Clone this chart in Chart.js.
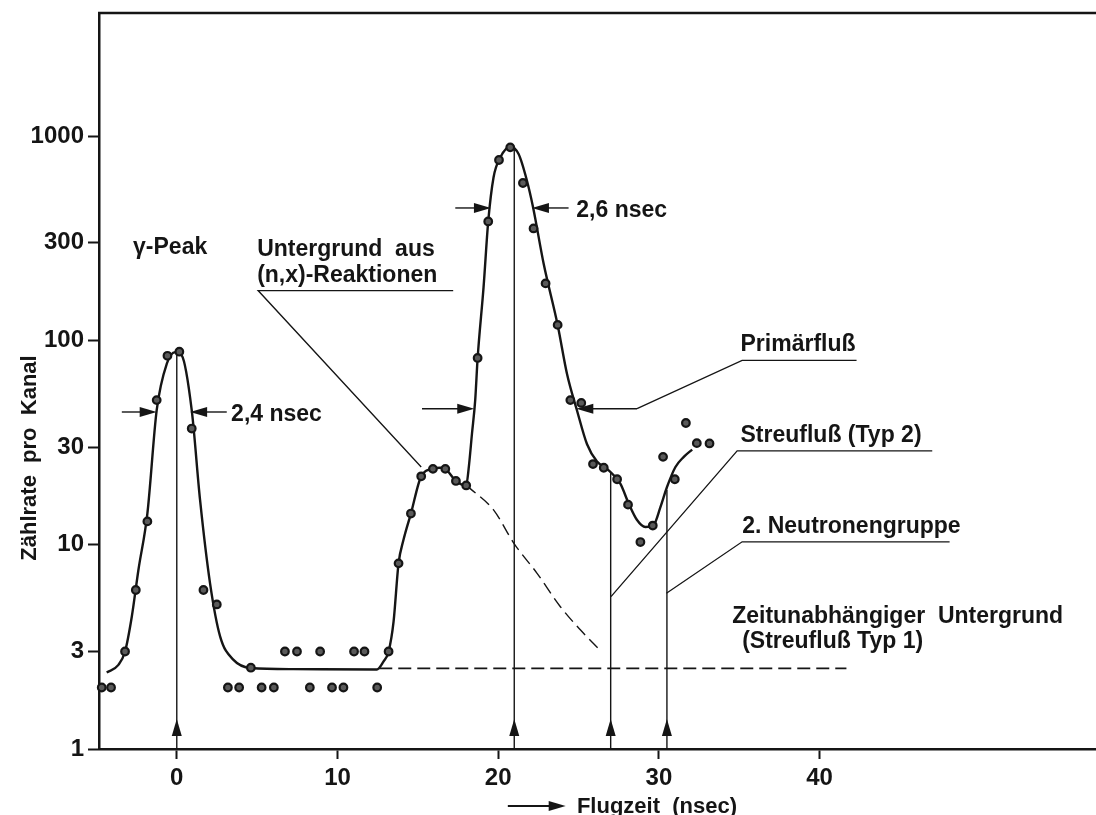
<!DOCTYPE html>
<html>
<head>
<meta charset="utf-8">
<title>Flugzeitspektrum</title>
<script src="https://cdn.jsdelivr.net/npm/chart.js"></script>
<style>
  body { margin: 0; background: #fff; }
  canvas { display: block; }
</style>
</head>
<body>
<canvas id="spectrum" width="1096" height="815"></canvas>
<script>
// Flugzeit in nsec, Zählrate pro Kanal
const measuredTime = [-4.67, -4.09, -3.22, -2.55, -1.83, -1.25, -0.58, 0.16, 0.93, 1.66, 2.49, 3.18, 3.88, 4.61, 5.28, 6.04, 6.73, 7.48, 8.28, 8.92, 9.66, 10.37, 11.03, 11.68, 12.47, 13.18, 13.8, 14.57, 15.21, 15.94, 16.71, 17.37, 18.01, 18.72, 19.38, 20.05, 20.75, 21.54, 22.2, 22.95, 23.7, 24.49, 25.17, 25.9, 26.57, 27.4, 28.08, 28.85, 29.62, 30.26, 30.99, 31.68, 32.36, 33.15];
const measuredCounts = [2, 2, 3, 6, 13, 51, 84, 88, 37, 6, 5.1, 2, 2, 2.5, 2, 2, 3, 3, 2, 3, 2, 2, 3, 3, 2, 3, 8.1, 14.2, 21.6, 23.5, 23.5, 20.5, 19.5, 82, 382, 763, 880, 589, 353, 190, 119, 51, 49.4, 24.8, 23.8, 20.9, 15.7, 10.3, 12.4, 26.9, 20.9, 39.4, 31.4, 31.3];

// durchgezogene Kurve
const fitTime = [-4.36, -3.63, -3.22, -2.8, -2.39, -1.83, -1.25, -0.62, -0.1, 0.31, 0.93, 1.45, 2.07, 2.7, 3.53, 4.61, 7.26, 12.45, 12.86, 13.18, 13.49, 13.8, 14.1, 14.57, 15.21, 15.94, 16.4, 16.71, 17.37, 18.01, 18.16, 18.37, 18.57, 18.72, 19.09, 19.38, 19.71, 20.13, 20.75, 21.27, 21.79, 22.17, 22.83, 23.7, 24.28, 24.9, 25.53, 26.15, 26.77, 27.6, 28.12, 28.64, 29.16, 29.68, 30.1, 30.51, 31.03, 31.55, 32.07];
const fitCounts = [2.37, 2.58, 3.0, 4.44, 7.5, 14.2, 45.5, 76.9, 87.6, 84.4, 45.5, 16.5, 6.47, 3.55, 2.73, 2.49, 2.46, 2.45, 2.68, 3.0, 4.2, 8.1, 10.5, 14.2, 21.6, 23.5, 23.8, 23.5, 20.5, 19.5, 23.5, 35, 51, 81.6, 182, 382, 627, 785, 886, 816, 604, 448, 237, 119, 68.7, 45.5, 31, 25.5, 23.5, 19.9, 15.9, 13.2, 12.2, 12.5, 15.3, 19.2, 24, 26.9, 29.2];

// Untergrund aus (n,x)-Reaktionen, gestrichelt
const reactionTime = [18.01, 18.26, 19.71, 21.0, 22.42, 23.87, 25.11, 26.36];
const reactionCounts = [19.5, 18.8, 14.8, 10.1, 7.24, 4.97, 3.83, 3.03];

// zeitunabhängiger Untergrund
const flatTime = [12.6, 41.67];
const flatCounts = [2.48, 2.48];

// senkrechte Markierungen mit Pfeil
const markerTime = [0, 21, 27, 30.5];
const markerTop = [88, 886, 22.7, 18.5];

const xTicks = [0, 10, 20, 30, 40];
const yTicks = [1, 3, 10, 30, 100, 300, 1000];

const FONT = "'Liberation Sans', Arial, sans-serif";
const INK = '#151515';

const toPoints = (xs, ys) => xs.map((t, i) => ({ x: t, y: ys[i] }));

const datasets = [
    {
        data: toPoints(measuredTime, measuredCounts),
        showLine: false,
        pointRadius: 3.8,
        pointBorderWidth: 2.2,
        pointBorderColor: INK,
        pointBackgroundColor: '#5a5a5a',
        clip: false
    },
    {
        data: toPoints(fitTime, fitCounts),
        showLine: true,
        borderColor: INK,
        borderWidth: 2.4,
        cubicInterpolationMode: 'monotone',
        pointRadius: 0
    },
    {
        data: toPoints(reactionTime, reactionCounts),
        showLine: true,
        borderColor: INK,
        borderWidth: 1.4,
        borderDash: [12, 6],
        cubicInterpolationMode: 'monotone',
        pointRadius: 0
    },
    {
        data: toPoints(flatTime, flatCounts),
        showLine: true,
        borderColor: INK,
        borderWidth: 1.6,
        borderDash: [13, 6],
        pointRadius: 0
    }
];

markerTime.forEach((t, i) => {
    datasets.push({
        data: [{ x: t, y: 1 }, { x: t, y: markerTop[i] }],
        showLine: true,
        borderColor: INK,
        borderWidth: 1.4,
        pointRadius: 0
    });
});

function head(ctx, tipX, tipY, dx, dy, len, half) {
    const bx = tipX - dx * len, by = tipY - dy * len;
    ctx.beginPath();
    ctx.moveTo(tipX, tipY);
    ctx.lineTo(bx - dy * half, by + dx * half);
    ctx.lineTo(bx + dy * half, by - dx * half);
    ctx.closePath();
    ctx.fill();
}

function arrow(ctx, x1, y1, x2, y2) {
    const l = Math.hypot(x2 - x1, y2 - y1);
    const dx = (x2 - x1) / l, dy = (y2 - y1) / l;
    ctx.beginPath();
    ctx.moveTo(x1, y1);
    ctx.lineTo(x2 - dx * 8, y2 - dy * 8);
    ctx.stroke();
    head(ctx, x2, y2, dx, dy, 17, 5);
}

// keine Randreserve fuer Achsenbeschriftungen
function noEdgePadding(s) {
    s.paddingTop = 0;
    s.paddingBottom = 0;
    s.paddingLeft = 0;
    s.paddingRight = 0;
}

// Beschriftung, Halbwertsbreiten, Hinweislinien
const annotations = {
    id: 'annotations',
    afterDraw(chart) {
        const { ctx, chartArea, scales: { x, y } } = chart;
        const px = v => x.getPixelForValue(v);
        const py = v => y.getPixelForValue(v);
        ctx.save();
        ctx.strokeStyle = INK;
        ctx.fillStyle = INK;

        // oberer Rahmen
        ctx.lineWidth = 2.5;
        ctx.beginPath();
        ctx.moveTo(chartArea.left - 1, chartArea.top);
        ctx.lineTo(chartArea.right, chartArea.top);
        ctx.stroke();

        // Pfeile an den senkrechten Markierungen
        markerTime.forEach(t => {
            head(ctx, px(t), py(1) - 30, 0, -1, 17, 5);
        });

        // Halbwertsbreiten
        ctx.lineWidth = 1.4;
        [
            [-3.42, -1.25, 44.6], [3.11, 0.83, 44.6],
            [17.33, 19.55, 444.5], [24.38, 22.1, 444.5],
            [15.26, 18.51, 46.3], [28.64, 24.86, 46.3]
        ].forEach(([from, to, c]) => arrow(ctx, px(from), py(c), px(to), py(c)));

        // Hinweislinien mit Unterstreichung
        ctx.lineWidth = 1.3;
        [
            [[15.21, 24.0], [5.06, 175.3], [17.2, 175.3]],
            [[28.64, 46.3], [35.18, 79.8], [42.3, 79.8]],
            [[27.02, 5.57], [34.87, 28.8], [47.01, 28.8]],
            [[30.47, 5.78], [35.18, 10.33], [48.09, 10.33]]
        ].forEach(pts => {
            ctx.beginPath();
            pts.forEach(([t, c], i) => i ? ctx.lineTo(px(t), py(c)) : ctx.moveTo(px(t), py(c)));
            ctx.stroke();
        });

        ctx.font = 'bold 23px ' + FONT;
        ctx.textAlign = 'left';
        ctx.textBaseline = 'alphabetic';
        [
            ['γ-Peak', -2.72, 266],
            ['Untergrund  aus', 5.0, 260],
            ['(n,x)-Reaktionen', 5.0, 192],
            ['2,4 nsec', 3.38, 40.2],
            ['2,6 nsec', 24.86, 400],
            ['Primärfluß', 35.08, 88.3],
            ['Streufluß (Typ 2)', 35.08, 31.8],
            ['2. Neutronengruppe', 35.18, 11.43],
            ['Zeitunabhängiger  Untergrund', 34.56, 4.155],
            ['(Streufluß Typ 1)', 35.18, 3.115]
        ].forEach(([text, t, c]) => ctx.fillText(text, px(t), py(c)));

        // Achsentitel
        ctx.font = 'bold 22px ' + FONT;
        ctx.lineWidth = 2;
        arrow(ctx, px(20.6), 806, px(24.2), 806);
        ctx.fillText('Flugzeit  (nsec)', px(24.9), 813);

        ctx.translate(30, 458);
        ctx.rotate(-Math.PI / 2);
        ctx.textAlign = 'center';
        ctx.textBaseline = 'middle';
        ctx.fillText('Zählrate  pro  Kanal', 0, 0);
        ctx.restore();
    }
};

new Chart(document.getElementById('spectrum'), {
    type: 'scatter',
    data: { datasets: datasets },
    plugins: [annotations],
    options: {
        responsive: false,
        animation: false,
        layout: { autoPadding: false, padding: { top: 13, right: 0, left: 0, bottom: 0 } },
        plugins: { legend: { display: false }, tooltip: { enabled: false } },
        scales: {
            x: {
                type: 'linear',
                min: -4.84,
                max: 57.2,
                afterFit: s => { s.height = 66; noEdgePadding(s); },
                afterBuildTicks: s => { s.ticks = xTicks.map(v => ({ value: v })); },
                grid: { drawOnChartArea: false, drawTicks: true, tickLength: 10, tickColor: INK, tickWidth: 2 },
                border: { display: true, color: INK, width: 2.5 },
                ticks: { color: INK, padding: 5, autoSkip: false, maxRotation: 0, font: { family: FONT, size: 24, weight: 'bold' }, callback: v => String(v) }
            },
            y: {
                type: 'logarithmic',
                min: 1,
                max: 4000,
                afterFit: s => { s.width = 99; noEdgePadding(s); },
                afterBuildTicks: s => { s.ticks = yTicks.map(v => ({ value: v })); },
                grid: { drawOnChartArea: false, drawTicks: true, tickLength: 11, tickColor: INK, tickWidth: 2 },
                border: { display: true, color: INK, width: 2.5 },
                ticks: { color: INK, padding: 4, autoSkip: false, font: { family: FONT, size: 24, weight: 'bold' }, callback: v => String(v) }
            }
        }
    }
});
</script>
</body>
</html>
